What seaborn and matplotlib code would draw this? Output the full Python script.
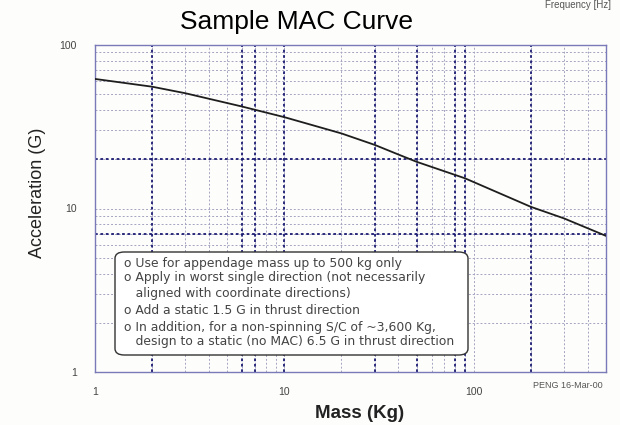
import matplotlib
matplotlib.use("Agg")
import matplotlib.pyplot as plt
import seaborn as sns
import pandas as pd
from matplotlib.patches import FancyBboxPatch

# ---- data ----
mass_kg = [1, 2, 3, 6, 10, 20, 30, 40, 50, 90, 200, 300, 500]
accel_g = [62, 55.6, 50.7, 42.0, 36.2, 28.8, 24.5, 21.4, 19.3, 15.3, 10.25, 8.7, 6.8]
x_tick_vals = [1, 10, 100]
x_tick_labels = ["1", "10", "100"]
y_tick_vals = [1, 10, 100]
y_tick_labels = ["1", "10", "100"]
dark_x = [2, 6, 7, 10, 30, 50, 80, 90, 200]
dark_y = [7, 20]
note_lines = [
    "o Use for appendage mass up to 500 kg only",
    "o Apply in worst single direction (not necessarily",
    "   aligned with coordinate directions)",
    "o Add a static 1.5 G in thrust direction",
    "o In addition, for a non-spinning S/C of ~3,600 Kg,",
    "   design to a static (no MAC) 6.5 G in thrust direction",
]

df = pd.DataFrame({"Mass": mass_kg, "Accel": accel_g})

sns.set_style("white")
plt.rcParams["font.family"] = ["Liberation Sans", "DejaVu Sans"]

fig = plt.figure(figsize=(6.2, 4.25), dpi=100, facecolor="#fdfdfb")
ax = fig.add_axes([95/620, 1-372/425, (606-95)/620, (372-45)/425])
ax.set_facecolor("#fdfdfb")

ax.set_xscale("log")
ax.set_yscale("log")
ax.set_xlim(1, 500)
ax.set_ylim(1, 100)

minor = [m * d for d in (1, 10, 100) for m in range(2, 10)]
ax.set_xticks(x_tick_vals)
ax.set_xticklabels(x_tick_labels)
ax.set_xticks([v for v in minor if v < 500], minor=True)
ax.set_yticks(y_tick_vals)
ax.set_yticklabels(y_tick_labels)
ax.set_yticks([v for v in minor if v < 100], minor=True)
ax.tick_params(which="both", length=0)
ax.tick_params(axis="x", pad=11, labelsize=7.5, labelcolor="#444444")
ax.tick_params(axis="y", pad=13, labelsize=7.5, labelcolor="#444444")

ax.grid(True, which="both", color="#a4a4c2", linestyle=(0, (2, 2)), linewidth=0.7)
for v in dark_x:
    ax.axvline(v, color="#1c1c72", linestyle=(0, (1.5, 1.5)), linewidth=1.3, zorder=1)
for v in dark_y:
    ax.axhline(v, color="#1c1c72", linestyle=(0, (1.5, 1.5)), linewidth=1.3, zorder=1)

sns.lineplot(data=df, x="Mass", y="Accel", ax=ax, color="#1e1e1e", linewidth=1.3, zorder=3)

for s in ax.spines.values():
    s.set_visible(True)
    s.set_color("#7a7ab8")
    s.set_linewidth(1.0)

ax.set_xlabel("")
ax.set_ylabel("")
fig.text(360/620, 1-413/425, "Mass (Kg)", fontsize=13.5, fontweight="bold",
         color="#222222", ha="center", va="center")
fig.text(38/620, 1-193/425, "Acceleration (G)", fontsize=13, rotation=90,
         color="#222222", ha="center", va="center")

fig.text(297/620, 1-22/425, "Sample MAC Curve", fontsize=19, ha="center", va="center", color="black")
fig.text(545/620, 1.0, "Frequency [Hz]", fontsize=7, ha="left", va="top", color="#555555")
fig.text(533/620, 1-385/425, "PENG 16-Mar-00", fontsize=6.5, ha="left", va="center", color="#555555")

# annotation box
bx0, by0, bx1, by1 = 115/620, 1-355/425, 468/620, 1-252/425
box = FancyBboxPatch((bx0, by0), bx1-bx0, by1-by0,
                     boxstyle="round,pad=0,rounding_size=0.015",
                     transform=fig.transFigure, facecolor="white",
                     edgecolor="#333333", linewidth=1.0, zorder=5)
fig.patches.append(box)
line_y = [263, 278, 293, 311, 327, 342]
for txt, yy in zip(note_lines, line_y):
    fig.text(124/620, 1-yy/425, txt, fontsize=8.9, ha="left", va="center",
             color="#444444", zorder=6, family=["DejaVu Sans"])

fig.savefig("out.png", dpi=100, facecolor=fig.get_facecolor())
